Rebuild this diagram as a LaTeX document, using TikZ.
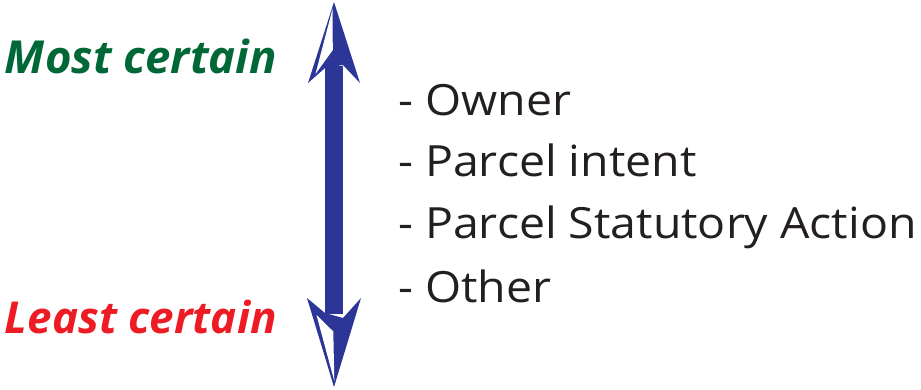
\documentclass[tikz,border=0pt]{standalone}
\usepackage{fontspec}
\setmainfont{Open Sans}
\newfontfamily\listfont[FakeStretch=1.08]{Open Sans}
\definecolor{certgreen}{RGB}{0,104,55}
\definecolor{certred}{RGB}{237,28,36}
\definecolor{axisblue}{RGB}{44,54,150}
\definecolor{listgray}{RGB}{35,31,32}
\tikzset{
  scalelabel/.style={font=\bfseries\itshape, anchor=base east, inner sep=0pt},
  listitem/.style={font=\listfont\fontsize{43}{43}\selectfont, text=listgray, anchor=base west, inner sep=0pt},
}
\begin{document}
\begin{tikzpicture}[x=1pt,y=-1pt]
  \useasboundingbox (0,0) rectangle (921,389);
  % shaft
  \fill[axisblue] (325,66) rectangle (343,314);
  % upper head: filled outline with a lighter left facet
  \fill[axisblue] (334,2) -- (360,83) -- (343,65) -- (325,68) -- (308,83) -- cycle;
  \fill[white] (332.5,9) -- (332.8,50) -- (315.5,74) -- cycle;
  % lower head
  \fill[axisblue] (334,387) -- (361,298) -- (343,318) -- (325,313) -- (307,298) -- cycle;
  \fill[white] (334.3,381) -- (333.3,331.5) -- (316.5,315) -- cycle;
  % end labels
  \node[scalelabel, text=certgreen] (most) at (277,73) {\fontsize{45.5}{46}\selectfont Most certain};
  \node[scalelabel, text=certred] (least) at (277,333) {\fontsize{44}{44}\selectfont Least certain};
  % list of sources
  \node[listitem] (owner) at (398,115) {- Owner};
  \node[listitem] (intent) at (398,176) {- Parcel intent};
  \node[listitem] (statutory) at (398,238) {- Parcel Statutory Action};
  \node[listitem] (other) at (398,302) {- Other};
\end{tikzpicture}
\end{document}
